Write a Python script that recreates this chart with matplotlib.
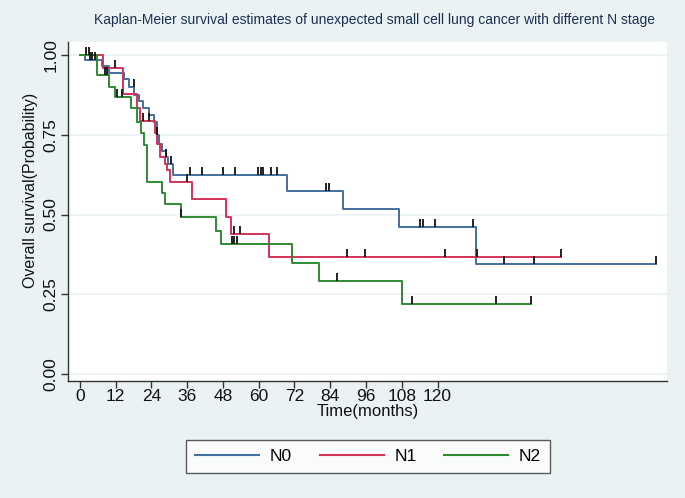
import matplotlib
matplotlib.use('Agg')
import matplotlib.pyplot as plt
import numpy as np
from matplotlib.path import Path
from matplotlib import font_manager

names = {f.name for f in font_manager.fontManager.ttflist}
FONT = 'Liberation Sans Narrow' if 'Liberation Sans Narrow' in names else 'Liberation Sans'
plt.rcParams['font.family'] = [FONT, 'DejaVu Sans']

# ---------------- data ----------------
groups = ['N0', 'N1', 'N2']

n0_times = [0, 1.7, 7.3, 9.8, 14.8, 16.5, 18.2, 19.7, 21.3, 23.3, 24.7, 25.7, 26.6, 27.4,
            28.8, 29.6, 31.3, 69.4, 88.4, 107.2, 132.9]
n0_surv = [1.0, 0.984, 0.965, 0.945, 0.924, 0.90, 0.876, 0.855, 0.833, 0.812, 0.79, 0.75,
           0.72, 0.70, 0.68, 0.66, 0.624, 0.575, 0.516, 0.462, 0.345]
n0_end = 193.2
n0_censor = [3.4, 4.1, 5.0, 18.1, 26.0, 29.0, 30.6, 36.9, 41.0, 48.0, 52.0, 59.8, 60.6,
             61.5, 64.0, 66.0, 82.7, 83.5, 114.1, 115.2, 119.1, 132.0, 142.4, 152.5, 193.2]

n1_times = [0, 7.6, 14.5, 19.3, 20.2, 25.3, 26.0, 26.8, 28.5, 29.3, 30.3, 37.5, 49.0,
            50.8, 63.4]
n1_surv = [1.0, 0.961, 0.878, 0.833, 0.794, 0.757, 0.72, 0.68, 0.66, 0.64, 0.603, 0.548,
           0.493, 0.439, 0.366]
n1_end = 161.3
n1_censor = [3.0, 11.7, 21.0, 23.3, 36.0, 51.8, 53.7, 89.7, 95.6, 122.5, 133.4, 161.3]

n2_times = [0, 5.6, 9.8, 11.7, 17.2, 19.0, 20.6, 21.4, 22.4, 27.5, 28.6, 33.8, 45.6, 47.5,
            71.2, 80.3, 108.2]
n2_surv = [1.0, 0.937, 0.90, 0.869, 0.833, 0.79, 0.755, 0.718, 0.603, 0.568, 0.533, 0.491,
           0.448, 0.408, 0.349, 0.291, 0.219]
n2_end = 151.3
n2_censor = [2.2, 8.4, 9.2, 12.5, 14.2, 34.0, 50.9, 51.8, 52.8, 86.2, 111.6, 139.5, 151.3]

xticks = [0, 12, 24, 36, 48, 60, 72, 84, 96, 108, 120]
yticks = [0.0, 0.25, 0.50, 0.75, 1.00]
ytick_labels = ['0.00', '0.25', '0.50', '0.75', '1.00']

title = 'Kaplan-Meier survival estimates of unexpected small cell lung cancer with different N stage'
xlabel = 'Time(months)'
ylabel = 'Overall survival(Probability)'

colors = ['#43709f', '#d3335a', '#2f8a32']
BG = '#eaf2f3'

series = [(n0_times, n0_surv, n0_end, n0_censor),
          (n1_times, n1_surv, n1_end, n1_censor),
          (n2_times, n2_surv, n2_end, n2_censor)]

# ---------------- figure ----------------
W, H = 685, 498
fig = plt.figure(figsize=(W / 100, H / 100), dpi=100, facecolor=BG)
L, R, T, B = 68, 667, 42, 381
ax = fig.add_axes([L / W, 1 - B / H, (R - L) / W, (B - T) / H])
ax.set_facecolor('white')

for yv in yticks:
    ax.axhline(yv, color=BG, lw=1.2, zorder=0)

tick_marker = Path([(0, 0), (0, 1)], [Path.MOVETO, Path.LINETO])

handles = []
for (tt, ss, end, cens), col, g in zip(series, colors, groups):
    xs = list(tt) + [end]
    ys = list(ss) + [ss[-1]]
    h, = ax.step(xs, ys, where='post', color=col, lw=1.4, label=g, zorder=3)
    handles.append(h)
    tarr = np.array(tt)
    sarr = np.array(ss)
    cy = [sarr[np.searchsorted(tarr, c, side='right') - 1] for c in cens]
    ax.plot(cens, cy, linestyle='none', marker=tick_marker, markersize=12,
            markeredgecolor='#111111', markeredgewidth=1.3, zorder=4)

ax.set_xlim(-4, 197)
ax.set_ylim(-0.022, 1.041)
ax.set_xticks(xticks)
ax.set_xticklabels([str(v) for v in xticks])
ax.set_yticks(yticks)
ax.set_yticklabels(ytick_labels, rotation=90, va='center')

for s in ['top', 'right']:
    ax.spines[s].set_visible(False)
for s in ['left', 'bottom']:
    ax.spines[s].set_color('#333333')
    ax.spines[s].set_linewidth(1.0)
ax.tick_params(axis='both', direction='out', length=5, width=1.0, color='#333333',
               labelsize=12.5, labelcolor='#111111', pad=2)
ax.tick_params(axis='x', pad=1)

ax.set_xlabel(xlabel, fontsize=12, color='#111111', labelpad=0)
ax.set_ylabel(ylabel, fontsize=11.5, color='#111111', labelpad=5)
ax.yaxis.set_label_coords(-0.050, (B - 190) / (B - T))

fig.text(375 / W, 1 - 20 / H, title, ha='center', va='center', fontsize=10,
         color='#1a3050')

leg = fig.legend(handles=handles, labels=groups, loc='center',
                 bbox_to_anchor=(368 / W, 1 - 456.5 / H), ncol=3, frameon=True,
                 fancybox=False, fontsize=12.5, handlelength=3.7, handletextpad=0.6,
                 columnspacing=1.6, borderpad=0.5, borderaxespad=0)
leg.get_frame().set_edgecolor('#333333')
leg.get_frame().set_linewidth(1.0)
leg.get_frame().set_facecolor('white')
for line in leg.get_lines():
    line.set_linewidth(1.5)

fig.savefig('out.png', dpi=100, facecolor=BG)
